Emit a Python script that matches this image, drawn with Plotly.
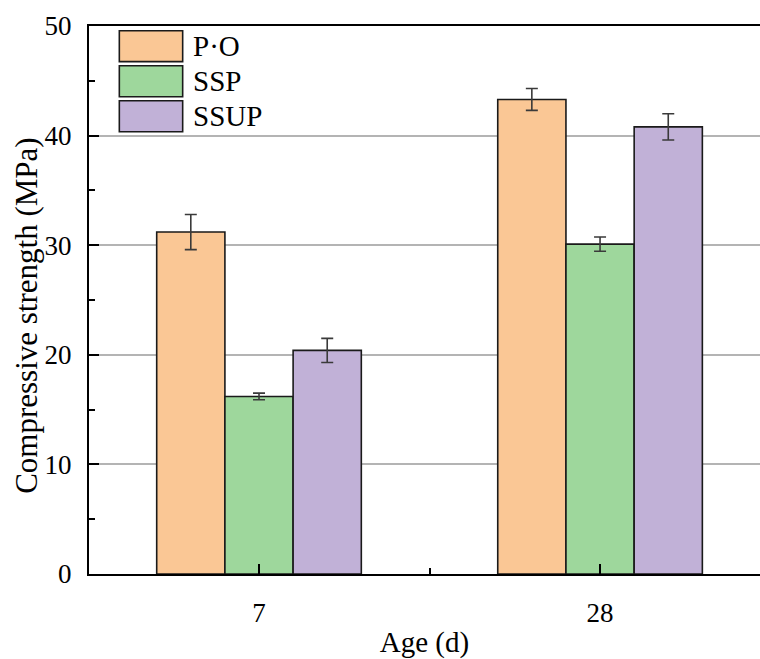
import plotly.graph_objects as go

ages = ["7", "28"]
series_names = ["P·O", "SSP", "SSUP"]
strength_po = [31.2, 43.3]
strength_ssp = [16.2, 30.1]
strength_ssup = [20.4, 40.8]
err_po = [1.6, 1.0]
err_ssp = [0.3, 0.65]
err_ssup = [1.1, 1.2]
colors = ["#FAC795", "#9ED79C", "#C1B1D7"]

values = [strength_po, strength_ssp, strength_ssup]
errors = [err_po, err_ssp, err_ssup]
xpos = list(range(len(ages)))

FONT = "Liberation Serif, Times New Roman, serif"

fig = go.Figure()
for name, v, e, c in zip(series_names, values, errors, colors):
    fig.add_trace(go.Bar(
        x=xpos, y=v, name=name,
        marker=dict(color=c, line=dict(color="#1a1a1a", width=1.6)),
        error_y=dict(type="data", array=e, visible=True, color="#3a3a3a",
                     thickness=1.6, width=6),
        showlegend=False,
    ))

# custom legend (large swatches as in the reference)
sw_x0, sw_x1 = 0.0452, 0.1396
top, h, step = 0.9914, 0.0565, 0.0639
for i, (name, c) in enumerate(zip(series_names, colors)):
    y1 = top - i * step
    y0 = y1 - h
    fig.add_shape(type="rect", xref="paper", yref="paper",
                  x0=sw_x0, x1=sw_x1, y0=y0, y1=y1,
                  fillcolor=c, line=dict(color="#1a1a1a", width=1.6))
    fig.add_annotation(xref="paper", yref="paper", x=0.152, y=(y0 + y1) / 2,
                       text=name, showarrow=False, xanchor="left", yanchor="middle",
                       font=dict(family=FONT, size=29, color="black"))

# y-axis title placed as in the reference
fig.add_annotation(xref="paper", yref="paper", x=-0.0925, y=0.471,
                   text="Compressive strength (MPa)", textangle=-90, showarrow=False,
                   xanchor="center", yanchor="middle",
                   font=dict(family=FONT, size=31, color="black"))

fig.update_layout(
    width=760, height=659,
    margin=dict(l=89, r=0, t=26, b=85),
    plot_bgcolor="white", paper_bgcolor="white",
    barmode="group", bargap=0.4, bargroupgap=0,
    font=dict(family=FONT, size=26, color="black"),
)
fig.update_xaxes(
    range=[-0.4985, 1.469],
    tickvals=xpos, ticktext=ages,
    ticks="inside", ticklen=10, tickwidth=2, tickcolor="black",
    minor=dict(tick0=0.5, dtick=1, ticks="inside", ticklen=6, tickwidth=2, tickcolor="black"),
    showline=True, linecolor="black", linewidth=2, mirror=True,
    showgrid=False, zeroline=False,
    ticklabelstandoff=14,
    tickfont=dict(family=FONT, size=27),
    title=dict(text="Age (d)", font=dict(family=FONT, size=29), standoff=10),
)
fig.update_yaxes(
    range=[0, 50], tickvals=[0, 10, 20, 30, 40, 50],
    ticks="inside", ticklen=10, tickwidth=2, tickcolor="black",
    minor=dict(tick0=5, dtick=10, ticks="inside", ticklen=6, tickwidth=2, tickcolor="black"),
    showline=True, linecolor="black", linewidth=2, mirror=False,
    showgrid=True, gridcolor="#B4B4B4", gridwidth=1.5, zeroline=False,
    ticklabelstandoff=10,
    tickfont=dict(family=FONT, size=27),
)

fig.write_html("out.html")
